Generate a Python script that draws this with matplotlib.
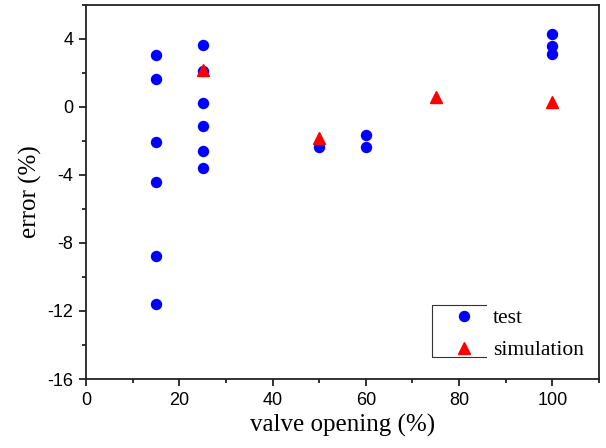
import numpy as np
import matplotlib.pyplot as plt
from matplotlib.ticker import MultipleLocator

plt.rcParams['axes.unicode_minus'] = False

# test measurements (valve opening %, error %)
test_x = [15, 15, 15, 15, 15, 15,
          25, 25, 25, 25, 25, 25,
          50, 60, 60,
          100, 100, 100]
test_y = [3.06, 1.64, -2.08, -4.43, -8.75, -11.58,
          3.63, 2.10, 0.23, -1.14, -2.57, -3.58,
          -2.33, -1.67, -2.33,
          4.31, 3.59, 3.10]

# simulation results
sim_x = [25, 50, 75, 100]
sim_y = [2.18, -1.85, 0.60, 0.32]

fig = plt.figure(figsize=(6.06, 4.48), dpi=100)
ax = fig.add_axes([0.142, 0.154, 0.8465, 0.835])

ax.plot(test_x, test_y, 'o', color='#0000ff', markersize=7.2, linestyle='none', label='test')
ax.plot(sim_x, sim_y, '^', color='#ff0000', markersize=8, linestyle='none', label='simulation')

ax.set_xlim(0, 110)
ax.set_ylim(-16, 6)
ax.xaxis.set_major_locator(MultipleLocator(20))
ax.xaxis.set_minor_locator(MultipleLocator(10))
ax.yaxis.set_major_locator(MultipleLocator(4))
ax.yaxis.set_minor_locator(MultipleLocator(2))
ax.set_yticks([-16, -12, -8, -4, 0, 4])

for sp in ax.spines.values():
    sp.set_linewidth(1.3)
    sp.set_color('#222222')
ax.tick_params(which='both', direction='out', top=False, right=False, color='#222222', width=1.3)
ax.tick_params(which='major', length=5, labelsize=13, pad=4)
ax.tick_params(which='minor', length=3)
for lab in ax.get_xticklabels() + ax.get_yticklabels():
    lab.set_family('Liberation Sans')

ax.set_xlabel('valve opening (%)', family='Liberation Serif', fontsize=18, labelpad=4)
ax.set_ylabel('error (%)', family='Liberation Serif', fontsize=18, labelpad=4)

leg = ax.legend(loc='upper left', bbox_to_anchor=(0.695, 0.212), frameon=False,
                prop={'family': 'Liberation Serif', 'size': 15.5},
                handletextpad=0.75, labelspacing=0.55, borderaxespad=0, handlelength=1.2)

# Origin-style open box around legend symbols
bx0, bx1, by0, by1 = 0.674, 0.780, 0.059, 0.198
ax.plot([bx1, bx0, bx0, bx1], [by1, by1, by0, by0], transform=ax.transAxes,
        color='#333333', linewidth=0.8, clip_on=False)

fig.savefig('out.png', dpi=100)
